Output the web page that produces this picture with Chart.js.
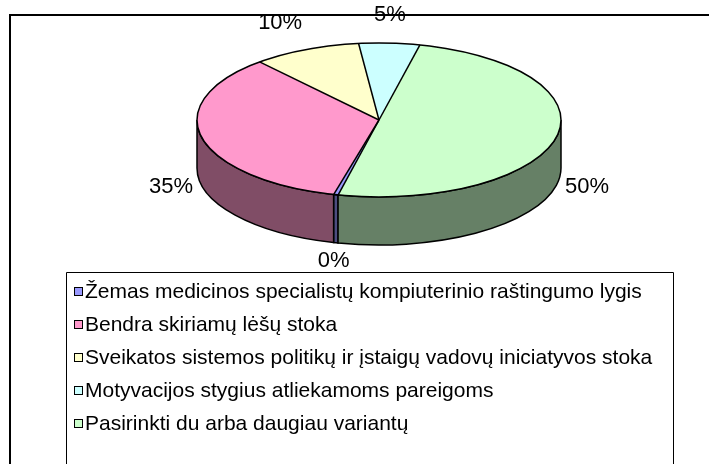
<!DOCTYPE html>
<html>
<head>
<meta charset="utf-8">
<script src="https://cdn.jsdelivr.net/npm/chart.js@4.4.0/dist/chart.umd.min.js"></script>
<style>
  html, body { margin: 0; padding: 0; background: #fff; }
  #wrap { position: relative; width: 709px; height: 464px; }
</style>
</head>
<body>
<div id="wrap"><canvas id="pieChart" width="709" height="464"></canvas></div>
<script>
// Survey answers (share of respondents, %)
const categories = [
  'Žemas medicinos specialistų kompiuterinio raštingumo lygis',
  'Bendra skiriamų lėšų stoka',
  'Sveikatos sistemos politikų ir įstaigų vadovų iniciatyvos stoka',
  'Motyvacijos stygius atliekamoms pareigoms',
  'Pasirinkti du arba daugiau variantų'
];
const shares = [0.4, 34.6, 9.6, 5.4, 50];

// Excel-like palette: top faces and darker sides
const topColors = ['#9999FF', '#FF99CC', '#FFFFCC', '#CCFFFF', '#CCFFCC'];
const sideColors = ['#4D4D80', '#804D66', '#808066', '#668080', '#668066'];

// 3D look settings
const tilt = 77 / 182;
const depth = 48;
const labelFont = '22px "Liberation Sans", Arial, sans-serif';
const legendFont = '21px "Liberation Sans", Arial, sans-serif';

// Draws the pie side, squashes the top face and adds labels
const pie3d = {
  id: 'pie3d',
  beforeDraw(chart) {
    const ctx = chart.ctx;
    ctx.save();
    ctx.fillStyle = '#fff';
    ctx.fillRect(0, 0, chart.width, chart.height);
    // outer frame
    ctx.strokeStyle = '#000';
    ctx.lineWidth = 2;
    ctx.beginPath();
    ctx.moveTo(10, chart.height);
    ctx.lineTo(10, 15);
    ctx.lineTo(chart.width, 15);
    ctx.stroke();
    ctx.restore();
  },
  beforeDatasetsDraw(chart) {
    const ctx = chart.ctx;
    const arcs = chart.getDatasetMeta(0).data;
    const x = arcs[0].x, y = arcs[0].y;
    const rx = arcs[0].outerRadius, ry = rx * tilt;

    // side walls (only the front half is visible)
    ctx.save();
    ctx.lineWidth = 1.5;
    ctx.strokeStyle = '#000';
    arcs.forEach((arc, i) => {
      [0, 2 * Math.PI].forEach(base => {
        const a = Math.max(arc.startAngle, base);
        const b = Math.min(arc.endAngle, base + Math.PI);
        if (b <= a) return;
        ctx.beginPath();
        ctx.ellipse(x, y, rx, ry, 0, a, b);
        ctx.ellipse(x, y + depth, rx, ry, 0, b, a, true);
        ctx.closePath();
        ctx.fillStyle = sideColors[i];
        ctx.fill();
        ctx.stroke();
      });
    });
    ctx.restore();

    // squash the library's round pie into an ellipse
    ctx.save();
    ctx.translate(x, y);
    ctx.scale(1, tilt);
    ctx.translate(-x, -y);
  },
  afterDatasetsDraw(chart) {
    const ctx = chart.ctx;
    ctx.restore();

    const arcs = chart.getDatasetMeta(0).data;
    const x = arcs[0].x, y = arcs[0].y;
    const rx = arcs[0].outerRadius, ry = rx * tilt;

    // outline of the top face
    ctx.save();
    ctx.lineWidth = 1.5;
    ctx.strokeStyle = '#000';
    ctx.beginPath();
    ctx.ellipse(x, y, rx, ry, 0, 0, 2 * Math.PI);
    ctx.stroke();
    arcs.forEach(arc => {
      ctx.beginPath();
      ctx.moveTo(x, y);
      ctx.lineTo(x + rx * Math.cos(arc.startAngle), y + ry * Math.sin(arc.startAngle));
      ctx.stroke();
    });

    // percentage labels
    const values = chart.data.datasets[0].data;
    const total = values.reduce((s, v) => s + v, 0);
    ctx.fillStyle = '#000';
    ctx.font = labelFont;
    arcs.forEach((arc, i) => {
      const mid = (arc.startAngle + arc.endAngle) / 2;
      const c = Math.cos(mid), s = Math.sin(mid);
      const lx = x + c * (rx + 9);
      const ly = y + s * (ry + (s < 0 ? 17 : 7)) + (s > 0 ? depth : 0);
      ctx.textAlign = Math.abs(c) < 0.3 ? 'center' : (c > 0 ? 'left' : 'right');
      ctx.textBaseline = Math.abs(s) < 0.5 ? 'middle' : (s > 0 ? 'top' : 'bottom');
      ctx.fillText(Math.round(values[i] / total * 100) + '%', lx, ly);
    });
    ctx.restore();
  },
  afterDraw(chart) {
    // legend box below the pie, one entry per row
    const ctx = chart.ctx;
    const labels = chart.data.labels;
    ctx.save();
    ctx.lineWidth = 1;
    ctx.strokeStyle = '#000';
    ctx.beginPath();
    ctx.moveTo(66.5, chart.height);
    ctx.lineTo(66.5, 272.5);
    ctx.lineTo(673.5, 272.5);
    ctx.lineTo(673.5, chart.height);
    ctx.stroke();
    ctx.font = legendFont;
    ctx.textAlign = 'left';
    ctx.textBaseline = 'middle';
    labels.forEach((label, i) => {
      const rowY = 292 + i * 33;
      ctx.fillStyle = topColors[i];
      ctx.fillRect(74.5, rowY - 4.5, 8, 8);
      ctx.strokeRect(74.5, rowY - 4.5, 8, 8);
      ctx.fillStyle = '#000';
      ctx.fillText(label, 85, rowY);
    });
    ctx.restore();
  }
};

const ctx = document.getElementById('pieChart').getContext('2d');
const pieChart = new Chart(ctx, {
  type: 'pie',
  data: {
    labels: categories,
    datasets: [{
      data: shares,
      backgroundColor: topColors,
      borderWidth: 0,
      radius: 182,
      clip: false
    }]
  },
  options: {
    responsive: false,
    maintainAspectRatio: false,
    devicePixelRatio: 1,
    animation: false,
    rotation: 193,
    layout: {
      padding: { left: 49, right: 0, top: 0, bottom: 224 }
    },
    plugins: {
      legend: { display: false },
      tooltip: { enabled: false }
    }
  },
  plugins: [pie3d]
});
</script>
</body>
</html>
